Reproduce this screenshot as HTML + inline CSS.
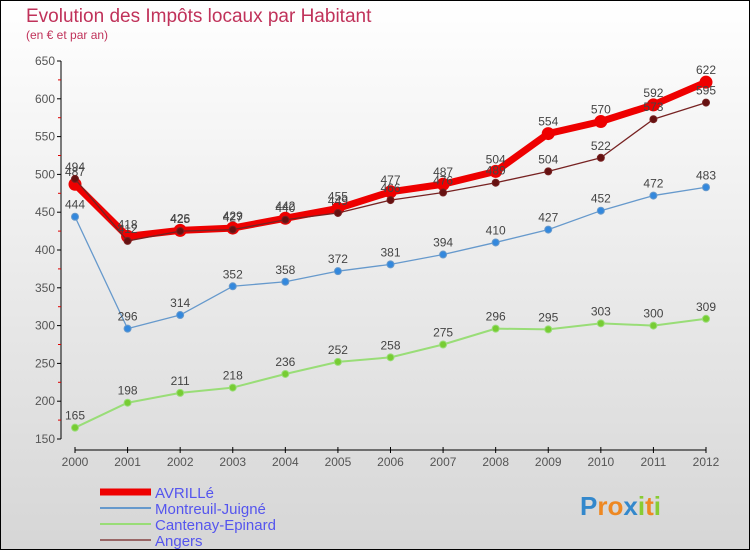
<!DOCTYPE html>
<html><head><meta charset="utf-8"><style>
body{margin:0}
#c{width:750px;height:550px;position:relative;overflow:hidden;box-sizing:border-box;border:1px solid #000;background:linear-gradient(#ffffff,#d6d6d6);font-family:"Liberation Sans",sans-serif}
</style></head><body>
<div id="c">
<svg id="s" width="750" height="550" style="position:absolute;left:-1px;top:-1px">
<text x="26" y="22" font-size="19" fill="#c0325a">Evolution des Impôts locaux par Habitant</text>
<text x="26" y="39" font-size="12" fill="#c0325a">(en € et par an)</text>
<g id="g"></g>
</svg>
</div>
<script>
const years=["2000","2001","2002","2003","2004","2005","2006","2007","2008","2009","2010","2011","2012"];
const avrille=[487,418,426,429,442,455,477,487,504,554,570,592,622];
const montreuil=[444,296,314,352,358,372,381,394,410,427,452,472,483];
const cantenay=[165,198,211,218,236,252,258,275,296,295,303,300,309];
const angers=[494,412,425,427,440,449,466,476,489,504,522,573,595];
const yTicks=[150,200,250,300,350,400,450,500,550,600,650];
const seriesNames=["AVRILLé","Montreuil-Juigné","Cantenay-Epinard","Angers"];
const NS="http://www.w3.org/2000/svg";
const g=document.getElementById('g');
const X=i=>75+i*(706-75)/12;
const Y=v=>439-(v-150)*(378/500);
function el(t,a,p){const e=document.createElementNS(NS,t);for(const k in a)e.setAttribute(k,a[k]);(p||g).appendChild(e);return e;}
// axes
let ya=el('line',{x1:61,y1:61,x2:61,y2:439,stroke:'#000'});


for(let v=175;v<650;v+=50){el('line',{x1:58,x2:61,y1:Y(v),y2:Y(v),stroke:'#d00'});}
yTicks.forEach(v=>{el('line',{x1:57,x2:61,y1:Y(v),y2:Y(v),stroke:'#000'});
 const t=el('text',{x:55,y:Y(v)+4,'text-anchor':'end','font-size':12,fill:'#555'});t.textContent=v;
 
 });
let xa=el('line',{x1:75,y1:450,x2:706,y2:450,stroke:'#000'});


years.forEach((y,i)=>{el('line',{x1:X(i),x2:X(i),y1:447,y2:453,stroke:'#000'});
 const t=el('text',{x:X(i),y:466,'text-anchor':'middle','font-size':12,fill:'#555'});t.textContent=y;
 
 });
function series(d,col,w,r,fill,name){
 const p=el('polyline',{points:d.map((v,i)=>X(i)+','+Y(v)).join(' '),fill:'none',stroke:col,'stroke-width':w,'stroke-linejoin':'round'});
 
 
 d.forEach((v,i)=>{const c=el('circle',{cx:X(i),cy:Y(v),r:r,fill:fill,stroke:col,'stroke-width':1});
  
  
  const t=el('text',{x:X(i),y:Y(v)-8,'text-anchor':'middle','font-size':12,fill:'#444'});t.textContent=v;
  
  });
}
series(cantenay,'#99dd77',2,3.5,'#77cc33','cantenay');
series(montreuil,'#6699cc',1.3,3.5,'#3388dd','montreuil');
series(avrille,'#ee0000',7,6,'#ee0000','avrille');
series(angers,'#772222',1.3,3.5,'#661111','angers');
// legend
const lc=[['#ee0000',7],['#6699cc',2],['#99dd77',2],['#996666',2]];
seriesNames.forEach((n,i)=>{const yy=492+i*16;
 const l=el('line',{x1:100,x2:151,y1:yy,y2:yy,stroke:lc[i][0],'stroke-width':lc[i][1]});
 
 
 const t=el('text',{x:155,y:yy+6,'font-size':15,fill:'#5555ee'});t.textContent=n;
 
 });
// logo
const lg=el('text',{x:580,y:515,'font-size':26,'font-weight':'bold',fill:'#3399dd'});


[['P','#3388cc'],['r','#ee8822'],['o','#ee8822'],['x','#3388cc'],['i','#88cc33'],['t','#ee8822'],['i','#88cc33']].forEach(([c,f])=>{const s=el('tspan',{fill:f},lg);s.textContent=c;});
</script>
</body></html>
